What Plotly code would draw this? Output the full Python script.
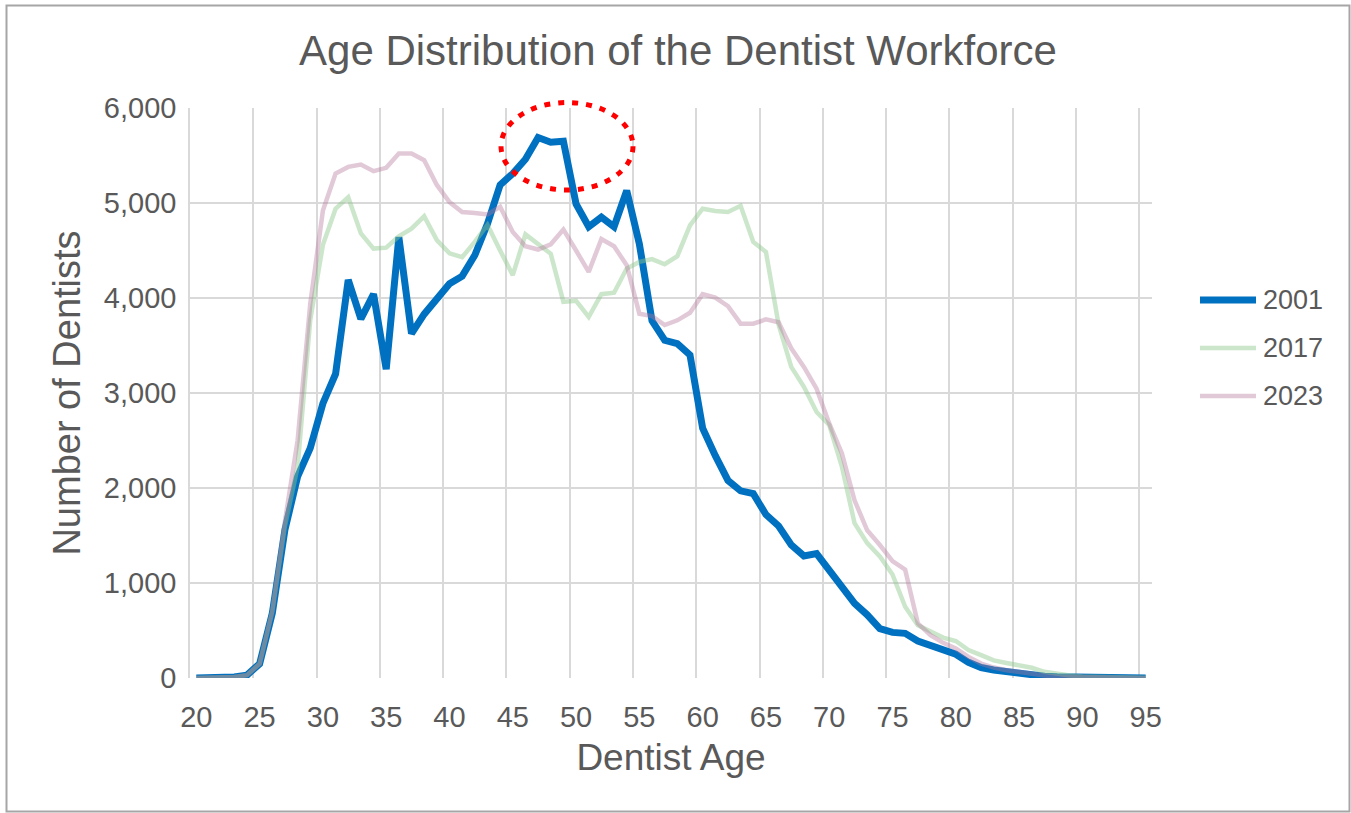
import plotly.graph_objects as go

# Ages 20..95 (one point per year)
ages = list(range(20, 96))

dentists_2001 = [
    0, 0, 5, 10, 30, 150, 680, 1560, 2120, 2420,
    2890, 3200, 4190, 3780, 4040, 3250, 4640, 3625, 3830, 4000,
    4150, 4230, 4450, 4780, 5190, 5310, 5460, 5690, 5640, 5650,
    4990, 4750, 4850, 4750, 5130, 4570, 3760, 3555, 3520, 3400,
    2630, 2340, 2080, 1970, 1940, 1720, 1600, 1400, 1285, 1310,
    1140, 960, 785, 665, 520, 480, 470, 390, 340, 285,
    250, 165, 110, 85, 65, 42, 25, 18, 12, 9,
    7, 5, 4, 3, 2, 1,
]

dentists_2017 = [
    0, 0, 5, 10, 30, 150, 700, 1600, 2220, 3770,
    4560, 4940, 5060, 4680, 4520, 4530, 4650, 4730, 4860, 4610,
    4470, 4430, 4590, 4770, 4500, 4240, 4670, 4565, 4465, 3960,
    3970, 3800, 4040, 4055, 4310, 4380, 4410, 4355, 4440, 4765,
    4940, 4915, 4905, 4970, 4590, 4485, 3720, 3275, 3065, 2800,
    2665, 2225, 1630, 1420, 1280, 1090, 750, 555, 485, 425,
    390, 295, 240, 185, 158, 134, 108, 65, 42, 27,
    17, 12, 8, 5, 3, 2,
]

dentists_2023 = [
    0, 0, 5, 10, 30, 150, 700, 1650, 2500, 3940,
    4920, 5310, 5380, 5405, 5335, 5370, 5520, 5520, 5450, 5190,
    5010, 4905, 4895, 4880, 4960, 4695, 4545, 4510, 4565, 4720,
    4500, 4275, 4620, 4545, 4345, 3835, 3810, 3715, 3765, 3845,
    4040, 4005, 3915, 3730, 3730, 3775, 3745, 3470, 3275, 3045,
    2680, 2365, 1870, 1555, 1400, 1230, 1140, 575, 450, 370,
    310, 222, 152, 110, 82, 60, 40, 26, 16, 11,
    8, 6, 4, 3, 2, 1,
]

series_names = ["2001", "2017", "2023"]
series_values = [dentists_2001, dentists_2017, dentists_2023]
series_colors = ["#0070C0", "rgba(140,200,140,0.45)", "rgba(180,120,155,0.40)"]
series_widths = [7, 4.5, 4.5]

x_ticks = list(range(20, 96, 5))
y_ticks = list(range(0, 6001, 1000))

TEXT = "#595959"
GRID = "#d9d9d9"
FONT = "Liberation Sans, Arial, sans-serif"

W, H = 1351, 813
ML, MR, MT, MB = 190, 199, 108, 135
PW, PH = W - ML - MR, H - MT - MB


def px_x(px):
    return (px - ML) / PW


def px_y(py):
    return (H - MB - py) / PH


fig = go.Figure()
for name, vals, col, lw in zip(series_names, series_values, series_colors, series_widths):
    fig.add_trace(go.Scatter(
        x=ages, y=vals, name=name, mode="lines",
        line=dict(color=col, width=lw),
        showlegend=False,
    ))

shapes = []
annotations = []

# Legend drawn beside the plot
for i, (name, col, lw) in enumerate(zip(series_names, series_colors, series_widths)):
    yc = 300 + 48 * i
    shapes.append(dict(
        type="line", xref="paper", yref="paper",
        x0=px_x(1200), x1=px_x(1256), y0=px_y(yc), y1=px_y(yc),
        line=dict(color=col, width=lw),
    ))
    annotations.append(dict(
        xref="paper", yref="paper", x=px_x(1261), y=px_y(yc),
        xanchor="left", yanchor="middle", text=name, showarrow=False,
        font=dict(family=FONT, size=27, color=TEXT),
    ))

# Red dotted highlight around the 2001 peak
shapes.append(dict(
    type="circle", xref="paper", yref="paper",
    x0=px_x(501), x1=px_x(633), y0=px_y(190), y1=px_y(102.5),
    line=dict(color="#FF0000", width=5, dash="6px,8px"),
))

# Outer chart frame
shapes.append(dict(
    type="rect", xref="paper", yref="paper",
    x0=px_x(6.5), x1=px_x(1349.5), y0=px_y(811.5), y1=px_y(5.5),
    line=dict(color="#a6a6a6", width=2),
))

fig.update_layout(
    width=W, height=H,
    margin=dict(l=ML, r=MR, t=MT, b=MB),
    paper_bgcolor="white", plot_bgcolor="white",
    font=dict(family=FONT, color=TEXT),
    title=dict(
        text="Age Distribution of the Dentist Workforce",
        x=678 / W, xanchor="center", xref="container",
        y=1 - 50 / H, yanchor="middle", yref="container",
        font=dict(family=FONT, size=42, color=TEXT),
    ),
    xaxis=dict(
        range=[19.5, 95.5],
        tickmode="array", tickvals=x_ticks, ticktext=[str(t) for t in x_ticks],
        showgrid=False, zeroline=False, showline=False, ticks="",
        tickfont=dict(family=FONT, size=29, color=TEXT),
        ticklabelstandoff=19,
        minor=dict(tick0=19.5, dtick=5, showgrid=True, gridcolor=GRID, gridwidth=1.5, ticks=""),
        title=dict(text="Dentist Age", font=dict(family=FONT, size=37, color=TEXT), standoff=12),
    ),
    yaxis=dict(
        range=[0, 6000],
        tickmode="array", tickvals=y_ticks, ticktext=[f"{v:,}" for v in y_ticks],
        showgrid=True, gridcolor=GRID, gridwidth=1.5,
        zeroline=False, showline=True, linecolor=GRID, linewidth=1.5, ticks="",
        tickfont=dict(family=FONT, size=29, color=TEXT),
        ticklabelstandoff=6,
        title=dict(text="Number of Dentists", font=dict(family=FONT, size=38, color=TEXT), standoff=12),
    ),
    shapes=shapes,
    annotations=annotations,
    showlegend=False,
)

fig.write_html("out.html")
